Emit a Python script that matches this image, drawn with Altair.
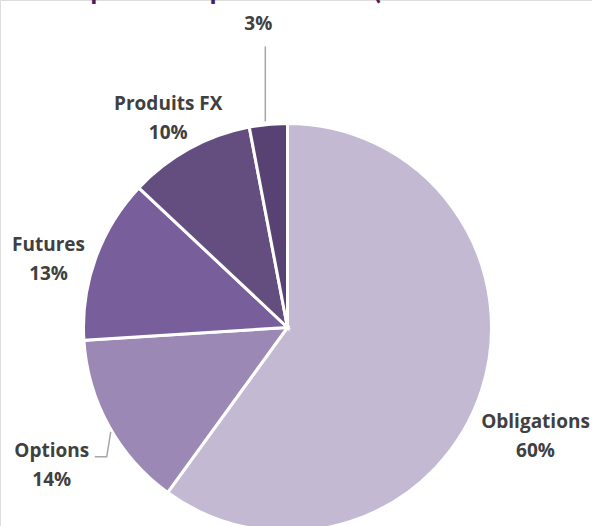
import math
import altair as alt
import pandas as pd

# ---- data ----
categories = ["Obligations", "Options", "Futures", "Produits FX", "Autres"]
values = [60, 14, 13, 10, 3]
show_name = [True, True, True, True, False]
colors = ["#C3B9D2", "#9B88B4", "#785F9B", "#644E80", "#584273"]
title_text = "Répartition par marchés (en %"

# ---- layout (pixels) ----
W, H = 592, 526
CX, CY, R = 287.5, 327.5, 204
LINE_H = 29
label_offsets = {  # offset of label block centre from slice's outer mid-point
    "Obligations": (54, 46),
    "Options": (-57, 40),
    "Futures": (-47, 1),
    "Produits FX": (-21, -30),
    "Autres": (-10, -100),
}
FONT = "Open Sans"

total = sum(values)
rows, label_rows, leader_rows = [], [], []
cum = 0
for i, (c, v, s) in enumerate(zip(categories, values, show_name)):
    mid = 2 * math.pi * (cum + v / 2) / total
    cum += v
    ex = CX + R * math.sin(mid)
    ey = CY - R * math.cos(mid)
    dx, dy = label_offsets[c]
    pct = f"{round(100 * v / total)}%"
    lines = [c, pct] if s else [pct]
    # first line's centre so that the whole block is centred on the anchor
    first_y = ey + dy - (len(lines) - 1) * LINE_H / 2
    rows.append({"cat": c, "val": v, "order": i})
    label_rows.append({"cat": c, "lx": ex + dx, "ly": first_y, "text": lines})
    if c == "Autres":
        leader_rows += [{"cat": c, "k": 0, "x": ex - 3, "y": ey - 3},
                        {"cat": c, "k": 1, "x": ex - 3, "y": ey - 78}]
    if c == "Options":
        leader_rows += [{"cat": c, "k": 0, "x": ex + 2, "y": ey + 6},
                        {"cat": c, "k": 1, "x": ex - 2, "y": ey + 31},
                        {"cat": c, "k": 2, "x": ex - 14, "y": ey + 31}]

df = pd.DataFrame(rows)
lab = pd.DataFrame(label_rows)
lead = pd.DataFrame(leader_rows)

pie = alt.Chart(df).mark_arc(outerRadius=R, stroke="white", strokeWidth=3).encode(
    theta=alt.Theta("val:Q", stack=True),
    order=alt.Order("order:Q"),
    color=alt.Color("cat:N", scale=alt.Scale(domain=categories, range=colors), legend=None),
    x=alt.value(CX),
    y=alt.value(CY),
)

leaders = alt.Chart(lead).mark_line(color="#A6A6A6", strokeWidth=1.5).encode(
    x=alt.X("x:Q", scale=None),
    y=alt.Y("y:Q", scale=None),
    detail="cat:N",
    order="k:Q",
)

labels = alt.Chart(lab).mark_text(
    font=FONT, fontSize=19, fontWeight="bold", color="#404040",
    align="center", baseline="middle", lineHeight=LINE_H,
).encode(
    x=alt.X("lx:Q", scale=None),
    y=alt.Y("ly:Q", scale=None),
    text="text:N",
)

title = alt.Chart(pd.DataFrame({"t": [title_text]})).mark_text(
    font="Lato", fontSize=29, fontWeight="bold", color="#4B1F5E",
    align="left", baseline="alphabetic",
).encode(x=alt.value(57), y=alt.value(-1), text="t:N")

chart = alt.layer(pie, leaders, labels, title).properties(
    width=W, height=H,
    autosize=alt.AutoSizeParams(type="none"),
    padding=0,
).configure_view(stroke=None).configure(background="white")

chart.save("out.html", embed_options={"renderer": "svg", "actions": False})
